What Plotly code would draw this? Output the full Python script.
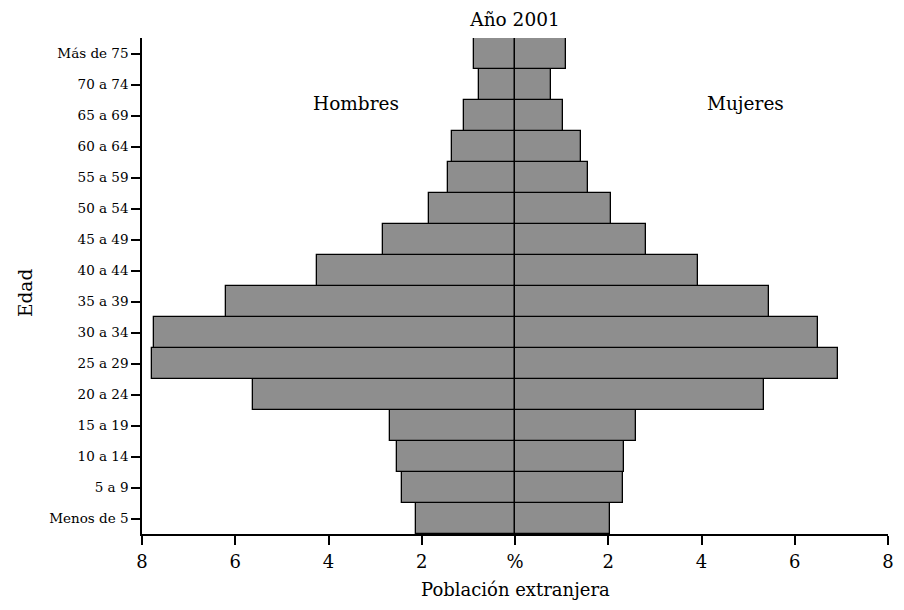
import plotly.graph_objects as go

categories = ["Menos de 5", "5 a 9", "10 a 14", "15 a 19", "20 a 24", "25 a 29",
              "30 a 34", "35 a 39", "40 a 44", "45 a 49", "50 a 54", "55 a 59",
              "60 a 64", "65 a 69", "70 a 74", "Más de 75"]
hombres = [2.12, 2.42, 2.53, 2.69, 5.63, 7.78, 7.75, 6.20, 4.25, 2.83, 1.84, 1.43,
           1.36, 1.10, 0.78, 0.89]
mujeres = [2.04, 2.32, 2.34, 2.60, 5.35, 6.92, 6.50, 5.45, 3.92, 2.81, 2.05, 1.57,
           1.42, 1.03, 0.77, 1.10]
tick_vals = [-8, -6, -4, -2, 0, 2, 4, 6, 8]
tick_text = ["8", "6", "4", "2", "%", "2", "4", "6", "8"]

FONT = "DejaVu Serif"
fill = "#8e8e8e"
W, H = 888, 594
ML, MR, MT, MB = 134, 8, 30, 68
PW, PH = W - ML - MR, H - MT - MB

fig = go.Figure()
fig.add_trace(go.Bar(y=categories, x=[-v for v in hombres], orientation="h",
                     name="Hombres", marker=dict(color=fill, line=dict(color="black", width=1.3)),
                     showlegend=False))
fig.add_trace(go.Bar(y=categories, x=mujeres, orientation="h",
                     name="Mujeres", marker=dict(color=fill, line=dict(color="black", width=1.3)),
                     showlegend=False))

fig.update_layout(
    width=W, height=H,
    barmode="relative", bargap=0,
    plot_bgcolor="white", paper_bgcolor="white",
    margin=dict(l=ML, r=MR, t=MT, b=MB),
    font=dict(family=FONT, color="black"),
    title=dict(text="Año 2001", x=0.5, xref="paper", y=1 - 12 / H, yanchor="middle",
               font=dict(family=FONT, size=18.5, color="black")),
    xaxis=dict(range=[-8, 8], tickvals=tick_vals, ticktext=tick_text, automargin=False,
               showgrid=False, zeroline=True, zerolinecolor="black", zerolinewidth=1.3,
               showline=True, linecolor="black", linewidth=1.5,
               ticks="outside", ticklen=9, tickwidth=1.5, tickcolor="black",
               ticklabelstandoff=2,
               tickfont=dict(family=FONT, size=18, color="black")),
    yaxis=dict(range=[-0.5, 15.5], showgrid=False, automargin=False,
               showline=True, linecolor="black", linewidth=1.5,
               ticks="outside", ticklen=9, tickwidth=1.5, tickcolor="black",
               tickfont=dict(family=FONT, size=13.5, color="black")),
)

# axis titles
fig.add_annotation(text="Población extranjera", x=0.5, y=-(581 - (MT + PH)) / PH,
                   xref="paper", yref="paper", yanchor="middle", showarrow=False,
                   font=dict(family=FONT, size=18, color="black"))
fig.add_annotation(text="Edad", x=-(ML - 17) / PW, y=(MT + PH - 285) / PH,
                   xref="paper", yref="paper", xanchor="center", yanchor="middle",
                   textangle=-90, showarrow=False,
                   font=dict(family=FONT, size=18.5, color="black"))

fig.add_annotation(text="Hombres", x=-3.4, y=13.4, xref="x", yref="y",
                   showarrow=False, font=dict(family=FONT, size=18.5, color="black"))
fig.add_annotation(text="Mujeres", x=4.94, y=13.4, xref="x", yref="y",
                   showarrow=False, font=dict(family=FONT, size=18.5, color="black"))

fig.write_html("out.html")
